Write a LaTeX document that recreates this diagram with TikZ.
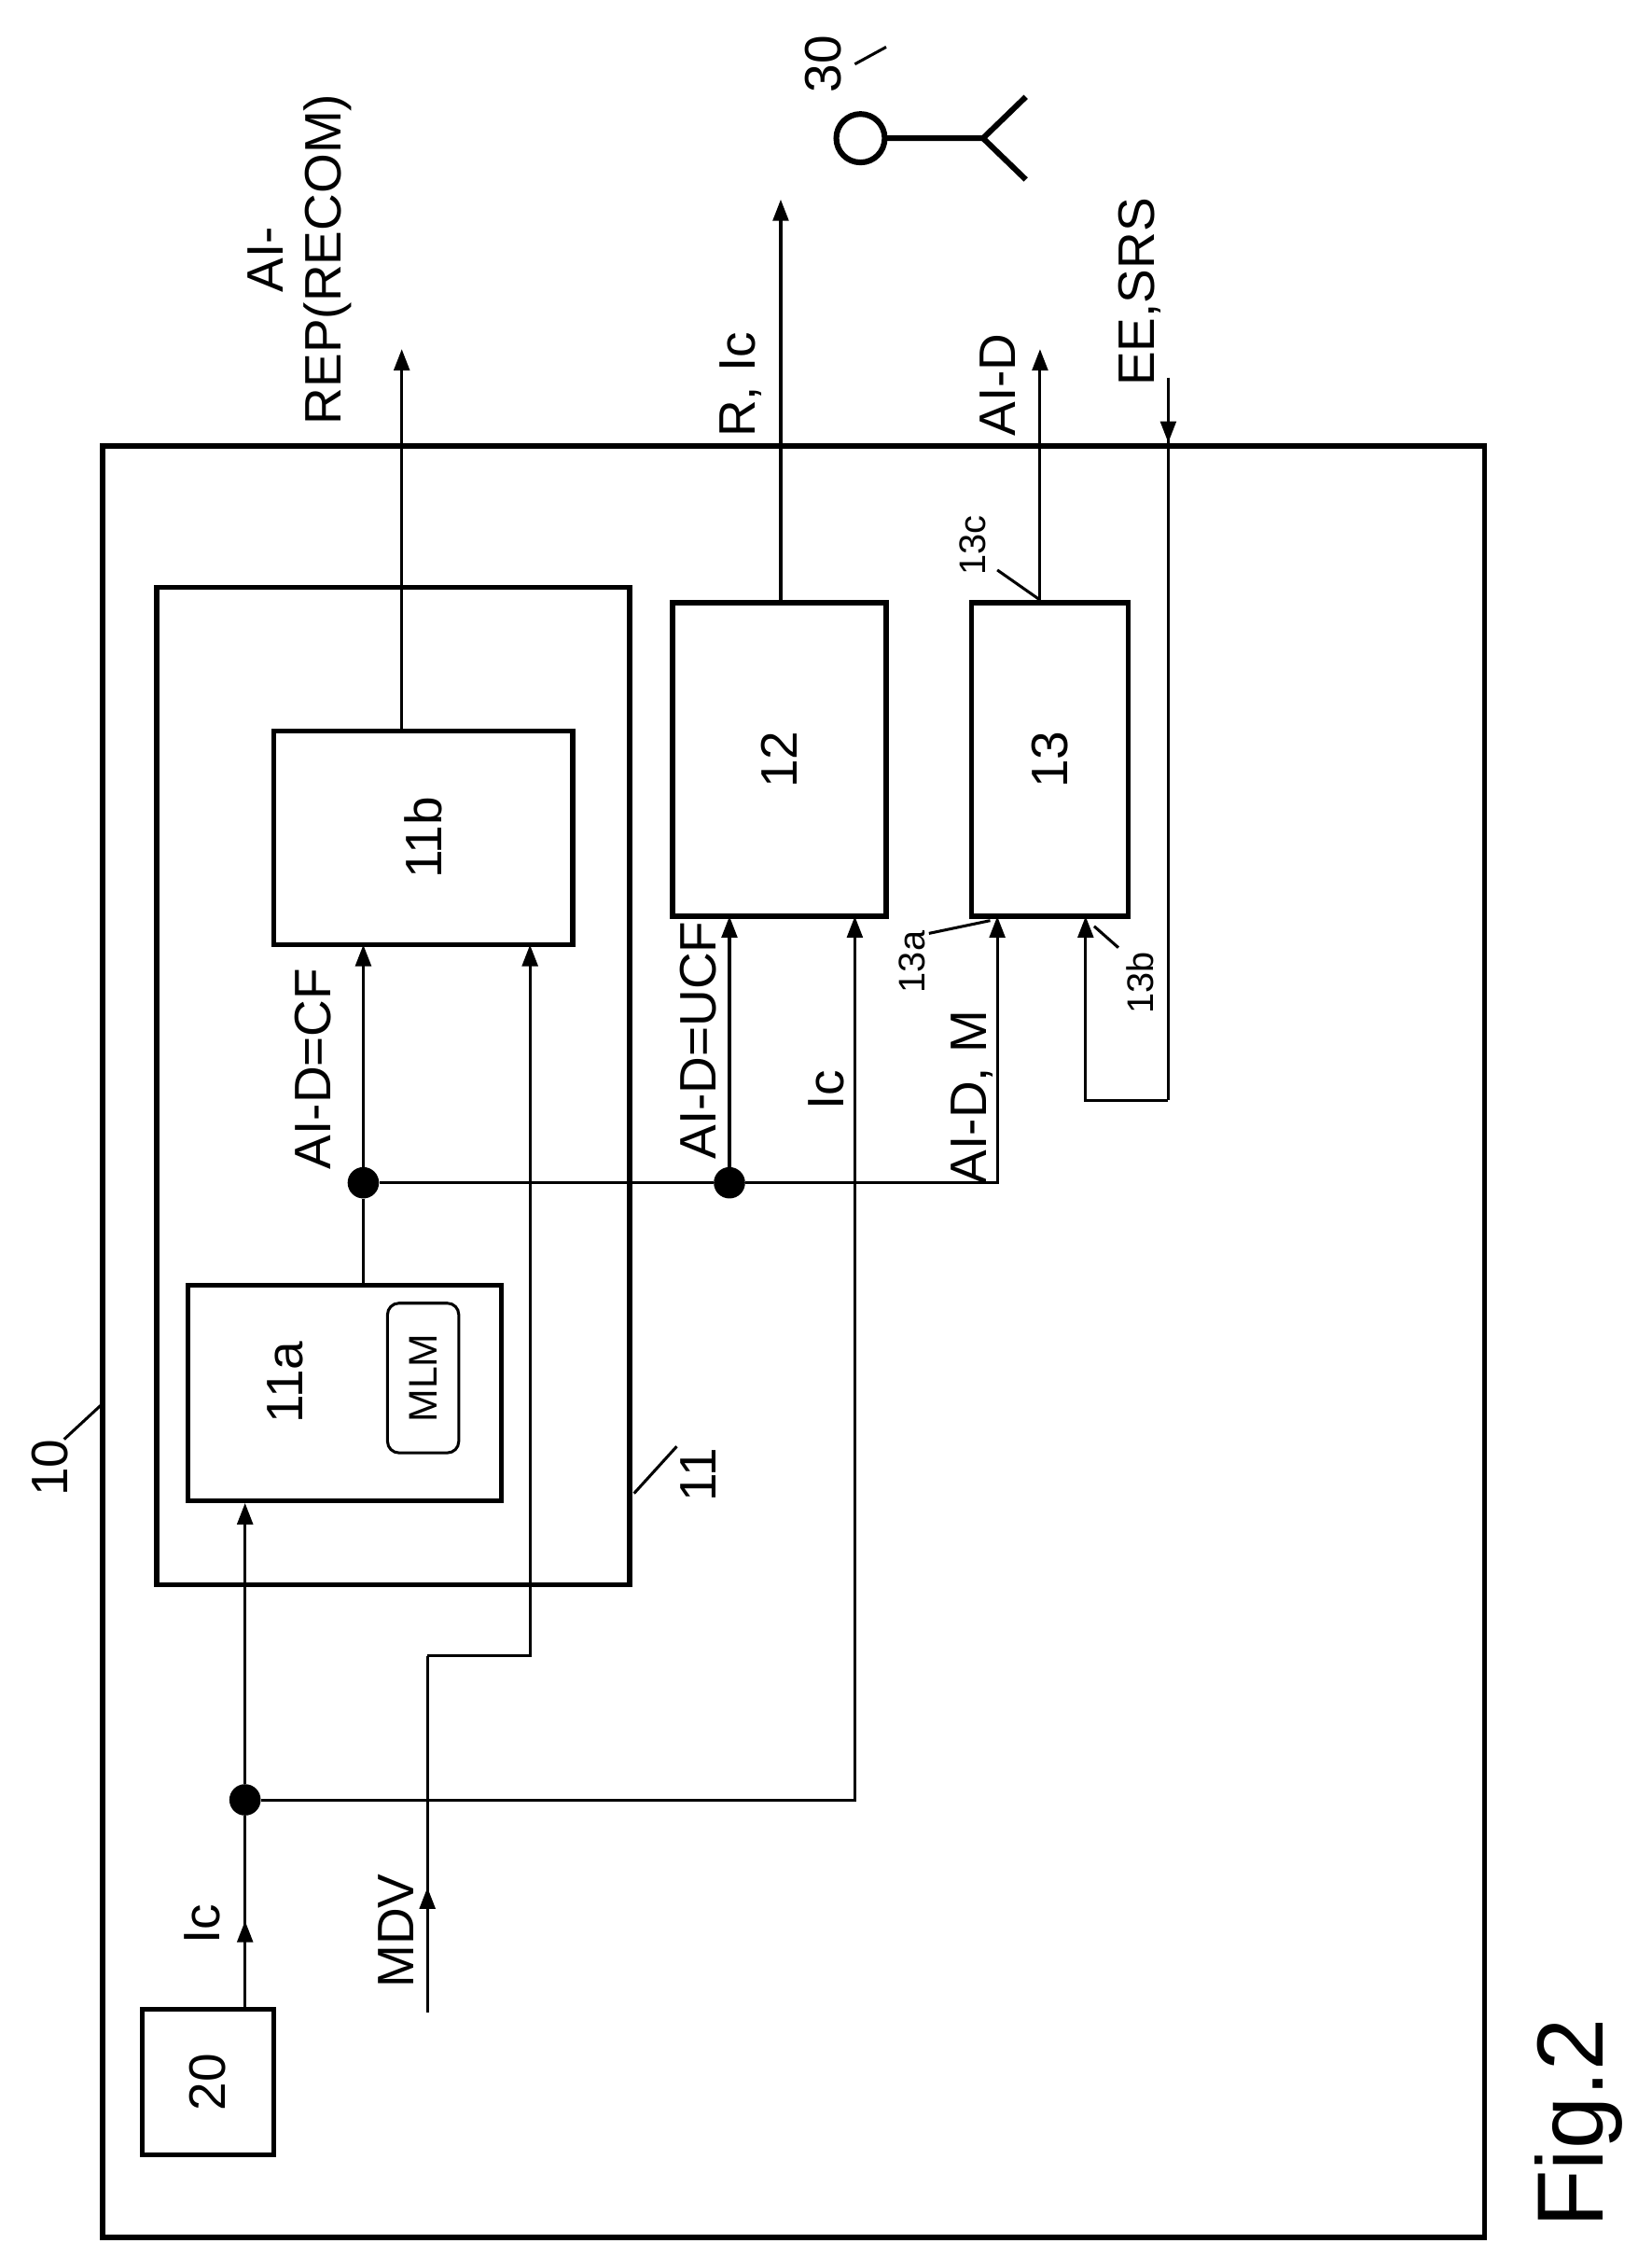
\documentclass[tikz,border=0pt]{standalone}
\usepackage{fontspec}
\setmainfont{Liberation Sans}
\usetikzlibrary{arrows.meta,decorations.markings}
\begin{document}
\begin{tikzpicture}[x=1pt,y=-1pt,
 box/.style={draw,line width=3.5pt},
 ln/.style={line width=2pt},
 arr/.style={ln,-{Triangle[length=15pt,width=11pt]}},
 mid/.style={ln,postaction={decorate},decoration={markings,mark=at position #1 with {\arrow{Triangle[length=15pt,width=11pt]}}}},
 lab/.style={rotate=90,font=\fontsize{36}{40}\selectfont,align=center},
 sl/.style={rotate=90,font=\fontsize{26}{30}\selectfont},
 dot/.style={circle,fill,inner sep=0pt,minimum size=22pt}]
\useasboundingbox (0,0) rectangle (1159,1574);
\draw[box] (72,313) rectangle (1042,1570);
\draw[box] (110,412) rectangle (442,1112);
\node[box,minimum width=220pt,minimum height=151pt,inner sep=0] (a) at (242,977.5) {};
\node[lab] at (200,970) {11a};
\node[draw,line width=2pt,rounded corners=8pt,minimum width=50pt,minimum height=105pt,inner sep=0] (mlm) at (297,967) {};
\node[lab,font=\fontsize{28}{32}\selectfont] at (297,967) {MLM};
\node[box,minimum width=210pt,minimum height=150pt,inner sep=0] (b) at (297,588) {};
\node[lab] at (297,588) {11b};
\node[box,minimum width=150pt,minimum height=220pt,inner sep=0] (c) at (547,533) {};
\node[lab] at (547,533) {12};
\node[box,minimum width=110pt,minimum height=220pt,inner sep=0] (d) at (737,533) {};
\node[lab] at (737,533) {13};
\node[box,minimum width=92pt,minimum height=102pt,inner sep=0] (e) at (146,1461) {};
\node[lab] at (146,1461) {20};
\node[dot] (d1) at (172,1263) {};
\node[dot] (d2) at (255,830) {};
\node[dot] (d3) at (512,830) {};
\coordinate (mdv0) at (300,1412);
\coordinate (mdv1) at (300,1162);
\coordinate (mdv2) at (372,1162);
\coordinate (o1) at (282,245);
\coordinate (o2) at (548,140);
\coordinate (o3) at (730,245);
\coordinate (ee0) at (820,265);
\coordinate (ee1) at (820,772);
\coordinate (ee2) at (762,772);
\draw[mid=0.45] (e.north -| d1) -- (d1);
\draw[arr] (d1) -- (d1 |- a.south);
\draw[arr] (d1) -| (600,643);
\draw[mid=0.35] (mdv0) -- (mdv1);
\draw[arr] (mdv1) -- (mdv2) -- (372,663);
\draw[ln] (255,902) -- (d2);
\draw[arr] (d2) -- (255,663);
\draw[ln] (d2) -- (d3);
\draw[arr] (d3) -- (512,643);
\draw[arr] (d3) -| (700,643);
\draw[arr] (282,513) -- (o1);
\draw[arr] (548,423) -- (o2);
\draw[arr] (730,423) -- (o3);
\draw[mid=0.09] (ee0) -- (ee1);
\draw[arr] (ee1) -- (ee2) -- (762,643);
\node[lab,anchor=south] at (250,182) {AI-\\REP(RECOM)};
\node[lab] at (520,270) {R, Ic};
\node[lab] at (700,270) {AI-D};
\node[lab] at (800,205) {EE,SRS};
\node[lab] at (220,750) {AI-D=CF};
\node[lab] at (490,730) {AI-D=UCF};
\node[lab] at (580,765) {Ic};
\node[lab] at (682,770) {AI-D, M};
\node[lab] at (278,1355) {MDV};
\node[lab] at (142,1350) {Ic};
\node[rotate=90,font=\fontsize{66}{70}\selectfont] at (1108,1490) {Fig.2};
\node[sl] at (640,675) {13a}; \draw[ln] (652,655) -- (695,646);
\node[sl] at (800,690) {13b}; \draw[ln] (785,665) -- (768,650);
\node[sl] at (683,383) {13c}; \draw[ln] (700,400) -- (730,421);
\node[lab] at (35,1030) {10}; \draw[ln] (45,1010) -- (72,985);
\node[lab] at (490,1035) {11}; \draw[ln] (475,1015) -- (445,1048);
\node[lab] at (578,45) {30}; \draw[ln] (600,45) -- (622,33);
\draw[line width=4pt] (604,97) circle (17pt);
\draw[line width=4pt] (621,97) -- (690,97) -- (720,68);
\draw[line width=4pt] (690,97) -- (720,126);
\end{tikzpicture}
\end{document}
